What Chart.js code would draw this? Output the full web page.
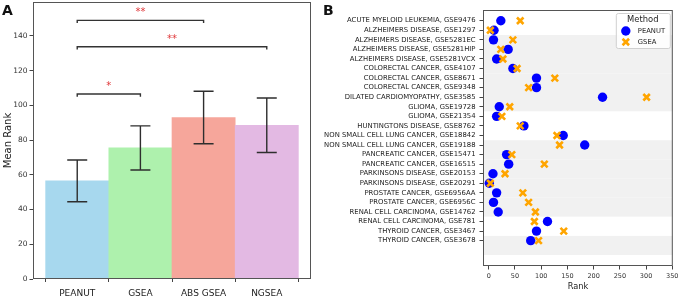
<!DOCTYPE html>
<html>
<head>
<meta charset="utf-8">
<script src="https://cdn.jsdelivr.net/npm/chart.js@4.4.1/dist/chart.umd.min.js"></script>
<style>
  html, body { margin: 0; padding: 0; background: #fff; }
  body { width: 680px; height: 298px; position: relative; overflow: hidden; }
  canvas { position: absolute; top: 0; }
  .letter { position: absolute; font: bold 14px 'DejaVu Sans', sans-serif; color: #111; line-height: 1; }
</style>
</head>
<body>
<canvas id="chartA" width="340" height="298" style="left:0"></canvas>
<canvas id="chartB" width="370" height="298" style="left:310px"></canvas>
<div class="letter" style="left:2px; top:3px">A</div>
<div class="letter" style="left:323px; top:3px">B</div>

<script>
// ---- panel A data
const methods = ['PEANUT', 'GSEA', 'ABS GSEA', 'NGSEA'];
const meanRank = [56.5, 75.5, 93, 88.5];
const rankSd = [12, 12.7, 15.1, 15.7];
const meanTicks = [0, 20, 40, 60, 80, 100, 120, 140];
// significance brackets: pair of bars, bracket height, stars
const sigPairs = [[0, 1], [0, 3], [0, 2]];
const sigHeights = [106.5, 133.7, 148.9];
const sigLabels = ['*', '**', '**'];

// ---- panel B data
const datasetNames = [
  'ACUTE MYELOID LEUKEMIA, GSE9476',
  'ALZHEIMERS DISEASE, GSE1297',
  'ALZHEIMERS DISEASE, GSE5281EC',
  'ALZHEIMERS DISEASE, GSE5281HIP',
  'ALZHEIMERS DISEASE, GSE5281VCX',
  'COLORECTAL CANCER, GSE4107',
  'COLORECTAL CANCER, GSE8671',
  'COLORECTAL CANCER, GSE9348',
  'DILATED CARDIOMYOPATHY, GSE3585',
  'GLIOMA, GSE19728',
  'GLIOMA, GSE21354',
  'HUNTINGTONS DISEASE, GSE8762',
  'NON SMALL CELL LUNG CANCER, GSE18842',
  'NON SMALL CELL LUNG CANCER, GSE19188',
  'PANCREATIC CANCER, GSE15471',
  'PANCREATIC CANCER, GSE16515',
  'PARKINSONS DISEASE, GSE20153',
  'PARKINSONS DISEASE, GSE20291',
  'PROSTATE CANCER, GSE6956AA',
  'PROSTATE CANCER, GSE6956C',
  'RENAL CELL CARCINOMA, GSE14762',
  'RENAL CELL CARCINOMA, GSE781',
  'THYROID CANCER, GSE3467',
  'THYROID CANCER, GSE3678'
];
const peanutRank = [23, 10, 9, 37, 15, 46, 91, 91, 217, 20, 15, 67, 142, 183, 34, 38, 8, 1, 15, 9, 18, 112, 91, 80];
const gseaRank = [60, 3, 46, 23, 27, 54, 126, 76, 301, 40, 25, 60, 130, 135, 44, 106, 31, 3, 65, 76, 89, 87, 143, 95];
const rankTicks = [0, 50, 100, 150, 200, 250, 300, 350];

// styles
const barColors = ['#a7d8ee', '#aef1ad', '#f6a69b', '#e3b9e3'];
const bandColors = ['#ffffff', '#f1f1f1'];
const font = "'DejaVu Sans', sans-serif";

// ---------------- panel A
const annotateA = {
  id: 'annotateA',
  afterDatasetsDraw(chart) {
    const {ctx, chartArea, scales: {x, y}} = chart;
    ctx.save();
    ctx.strokeStyle = '#2e2e2e';
    ctx.lineWidth = 1.4;
    meanRank.forEach((m, i) => {
      const cx = x.getPixelForValue(i);
      const lo = y.getPixelForValue(m - rankSd[i]);
      const hi = y.getPixelForValue(m + rankSd[i]);
      ctx.beginPath();
      ctx.moveTo(cx, lo); ctx.lineTo(cx, hi);
      ctx.moveTo(cx - 10, lo); ctx.lineTo(cx + 10, lo);
      ctx.moveTo(cx - 10, hi); ctx.lineTo(cx + 10, hi);
      ctx.stroke();
    });
    sigPairs.forEach(([a, b], k) => {
      const x0 = x.getPixelForValue(a);
      const x1 = x.getPixelForValue(b);
      const yy = y.getPixelForValue(sigHeights[k]);
      const yd = y.getPixelForValue(sigHeights[k] - 1.5);
      ctx.strokeStyle = '#333';
      ctx.beginPath();
      ctx.moveTo(x0, yd); ctx.lineTo(x0, yy); ctx.lineTo(x1, yy); ctx.lineTo(x1, yd);
      ctx.stroke();
      ctx.fillStyle = '#e0383a';
      ctx.font = '10px ' + font;
      ctx.textAlign = 'center';
      ctx.textBaseline = 'alphabetic';
      ctx.fillText(sigLabels[k], (x0 + x1) / 2, yy - 5);
    });
    ctx.strokeStyle = '#555';
    ctx.lineWidth = 1;
    ctx.strokeRect(chartArea.left + 0.5, chartArea.top + 0.5, chartArea.width - 1, chartArea.height - 1);
    ctx.restore();
  }
};

new Chart(document.getElementById('chartA'), {
  type: 'bar',
  data: {
    datasets: [{
      data: methods.map((m, i) => ({x: i, y: meanRank[i]})),
      backgroundColor: barColors,
      borderWidth: 0,
      barPercentage: 1,
      categoryPercentage: 1
    }]
  },
  options: {
    responsive: false,
    animation: false,
    layout: {padding: {left: 0, right: 29, top: 2, bottom: 0}},
    plugins: {legend: {display: false}, tooltip: {enabled: false}},
    scales: {
      x: {
        type: 'linear',
        min: -0.7,
        max: 3.7,
        offset: false,
        afterBuildTicks: s => { s.ticks = methods.map((m, i) => ({value: i})); },
        afterFit: s => { s.height = 19; s.paddingLeft = 0; s.paddingRight = 0; },
        ticks: {
          callback: v => methods[v],
          font: {family: font, size: 9},
          color: '#222',
          padding: 6,
          maxRotation: 0,
          autoSkip: false
        },
        grid: {display: true, drawOnChartArea: false, drawTicks: true, tickLength: 3, color: '#444'},
        border: {display: false}
      },
      y: {
        min: 0,
        max: 159.5,
        afterBuildTicks: s => { s.ticks = meanTicks.map(v => ({value: v})); },
        afterFit: s => { s.width = 33; s.paddingTop = 0; s.paddingBottom = 0; },
        ticks: {font: {family: font, size: 7.5}, color: '#333', padding: 2, autoSkip: false},
        grid: {display: true, drawOnChartArea: false, drawTicks: true, tickLength: 3.5, color: '#444'},
        border: {display: false},
        title: {display: true, text: 'Mean Rank', font: {family: font, size: 10}, color: '#222', padding: {top: 2, bottom: 0}}
      }
    }
  },
  plugins: [annotateA]
});

// ---------------- panel B
const bandsB = {
  id: 'bandsB',
  beforeDatasetsDraw(chart) {
    const {ctx, chartArea, scales: {y}} = chart;
    // group consecutive rows by disease
    const groups = [];
    datasetNames.forEach((name, i) => {
      const disease = name.split(',')[0];
      const last = groups[groups.length - 1];
      if (last && last.disease === disease) last.end = i;
      else groups.push({disease, start: i, end: i});
    });
    const shade = [0, 1, 1, 1, 0, 0, 1, 1, 1, 1, 0, 1];
    ctx.save();
    groups.forEach((g, k) => {
      const top = y.getPixelForValue(g.start + 0.5);
      const bottom = y.getPixelForValue(g.end + 1.5);
      ctx.fillStyle = bandColors[shade[k]];
      ctx.fillRect(chartArea.left, top, chartArea.width, bottom - top);
    });
    ctx.restore();
  },
  afterDraw(chart) {
    const {ctx, chartArea} = chart;
    ctx.save();
    ctx.strokeStyle = '#555';
    ctx.lineWidth = 1;
    ctx.strokeRect(chartArea.left + 0.5, chartArea.top + 0.5, chartArea.width - 1, chartArea.height - 1);
    // legend
    const bx = chartArea.right - 57, by = chartArea.top + 3, bw = 54, bh = 35;
    ctx.fillStyle = 'rgba(255,255,255,0.85)';
    ctx.strokeStyle = '#d0d0d0';
    ctx.beginPath();
    ctx.roundRect(bx + 0.5, by + 0.5, bw, bh, 2);
    ctx.fill();
    ctx.stroke();
    ctx.fillStyle = '#222';
    ctx.textBaseline = 'middle';
    ctx.textAlign = 'center';
    ctx.font = '8.4px ' + font;
    ctx.fillText('Method', bx + bw / 2, by + 7);
    ctx.textAlign = 'left';
    ctx.font = '6.8px ' + font;
    const entries = [chart.data.datasets[0], chart.data.datasets[1]];
    entries.forEach((ds, k) => {
      const ey = by + 18 + k * 11;
      ctx.fillStyle = ds.backgroundColor;
      ctx.strokeStyle = ds.borderColor;
      ctx.lineWidth = ds.borderWidth;
      Chart.helpers.drawPoint(ctx, {pointStyle: ds.pointStyle, radius: ds.pointRadius, borderWidth: ds.borderWidth, rotation: 0}, bx + 10, ey);
      ctx.fillStyle = '#222';
      ctx.fillText(ds.label, bx + 22, ey);
    });
    ctx.restore();
  }
};

new Chart(document.getElementById('chartB'), {
  type: 'scatter',
  data: {
    datasets: [
      {
        label: 'PEANUT',
        data: peanutRank.map((v, i) => ({x: v, y: i})),
        pointStyle: 'circle',
        pointRadius: 4.7,
        backgroundColor: '#0000ff',
        borderColor: '#0000ff',
        borderWidth: 0,
        order: 1
      },
      {
        label: 'GSEA',
        data: gseaRank.map((v, i) => ({x: v, y: i})),
        pointStyle: 'crossRot',
        pointRadius: 4.6,
        backgroundColor: '#ffa500',
        borderColor: '#ffa500',
        borderWidth: 2.6,
        order: 0
      }
    ]
  },
  options: {
    responsive: false,
    animation: false,
    layout: {padding: {left: 0, right: 7, top: 10, bottom: 0}},
    plugins: {legend: {display: false}, tooltip: {enabled: false}},
    scales: {
      x: {
        type: 'linear',
        min: -11,
        max: 351,
        afterBuildTicks: s => { s.ticks = rankTicks.map(v => ({value: v})); },
        afterFit: s => { s.height = 32; s.paddingLeft = 0; s.paddingRight = 0; },
        ticks: {font: {family: font, size: 6.5}, color: '#333', padding: 2.5, maxRotation: 0, autoSkip: false},
        grid: {display: true, drawOnChartArea: false, drawTicks: true, tickLength: 3.5, color: '#444'},
        border: {display: false},
        title: {display: true, text: 'Rank', font: {family: font, size: 8.2}, color: '#222', padding: {top: 0, bottom: 6}}
      },
      y: {
        type: 'linear',
        reverse: true,
        min: -1.12,
        max: 25.65,
        afterBuildTicks: s => { s.ticks = datasetNames.map((n, i) => ({value: i})); },
        afterFit: s => { s.width = 173; s.paddingTop = 0; s.paddingBottom = 0; },
        ticks: {callback: v => datasetNames[v], font: {family: font, size: 6.87}, color: '#222', padding: 4, autoSkip: false},
        grid: {display: true, drawOnChartArea: false, drawTicks: true, tickLength: 3.5, color: '#444'},
        border: {display: false}
      }
    }
  },
  plugins: [bandsB]
});
</script>
</body>
</html>
